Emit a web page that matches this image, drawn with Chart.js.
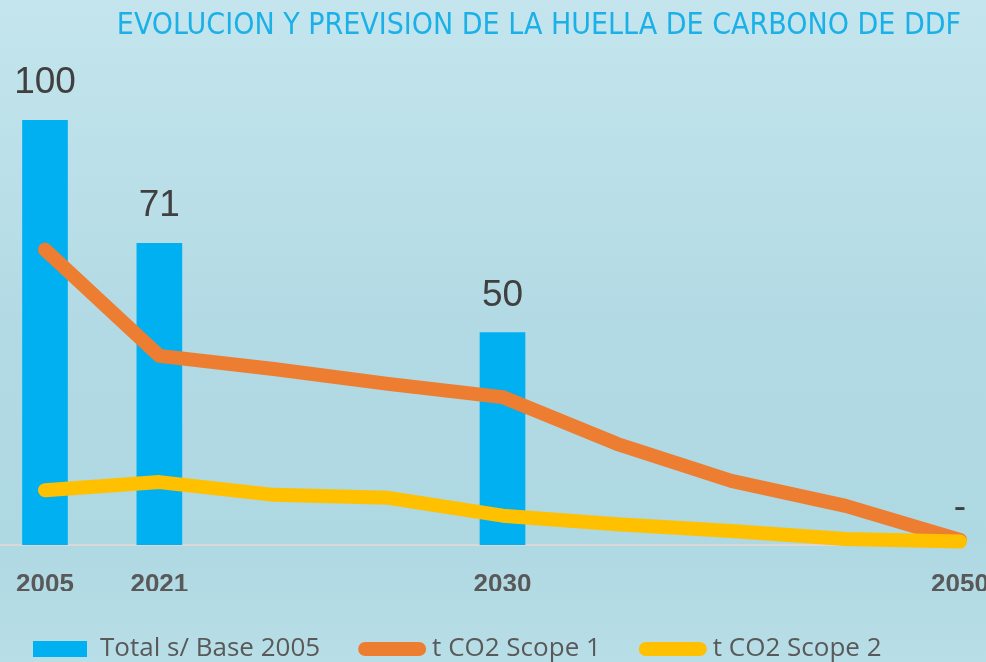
<!DOCTYPE html>
<html>
<head>
<meta charset="utf-8">
<title>Huella de carbono DDF</title>
<script src="https://cdn.jsdelivr.net/npm/chart.js@4/dist/chart.umd.min.js"></script>
<style>
  html, body { margin: 0; padding: 0; overflow: hidden; background: #b6dde6; }
  #wrap { position: relative; width: 986px; height: 672px; }
</style>
</head>
<body>
<div id="wrap"><canvas id="chart"></canvas></div>
<script>
// valores (indice 2005 = 100)
const categories = ['2005', '2021', '', '', '2030', '', '', '', '2050'];
const totalBase2005 = [100, 71, null, null, 50, null, null, null, 0];
const scope1 = [69.5, 44.5, 41.4, 37.9, 34.8, 23.8, 15.1, 9.2, 1.2];
const scope2 = [12.9, 14.8, 11.8, 11.1, 6.9, 4.9, 3.3, 1.4, 0.8];

const toPoints = (values) => values.map((v, i) => ({ x: i, y: v }));

const background = {
	id: 'background',
	beforeDraw(chart) {
		const { ctx, width, height } = chart;
		const g = ctx.createLinearGradient(0, 0, 0, height);
		g.addColorStop(0, '#c4e5ed');
		g.addColorStop(0.5, '#b2dae4');
		g.addColorStop(0.8, '#aed8e2');
		g.addColorStop(1, '#b9dfe8');
		ctx.save();
		ctx.fillStyle = g;
		ctx.fillRect(0, 0, width, height);
		ctx.restore();
	},
};

// la leyenda empieza algo mas a la izquierda que su caja
const legendShift = {
	id: 'legendShift',
	afterLayout(chart) {
		chart.legend.left -= 12;
		chart.legend.right -= 12;
	},
};

const barLabels = {
	id: 'barLabels',
	afterDatasetsDraw(chart) {
		const { ctx } = chart;
		const meta = chart.getDatasetMeta(0);
		ctx.save();
		ctx.fillStyle = '#404040';
		ctx.font = '37px "Liberation Sans", Arial, sans-serif';
		ctx.textAlign = 'center';
		ctx.textBaseline = 'middle';
		meta.data.forEach((bar, i) => {
			const v = totalBase2005[i];
			if (v === null) return;
			ctx.fillText(v === 0 ? '-' : String(v), bar.x, bar.y - 37);
		});
		ctx.restore();
	},
};

new Chart(document.getElementById('chart'), {
	type: 'bar',
	data: {
		datasets: [
			{
				type: 'bar',
				label: 'Total s/ Base 2005',
				data: toPoints(totalBase2005),
				backgroundColor: '#00b0f0',
				barThickness: 45,
				order: 2,
			},
			{
				type: 'line',
				label: 't CO2 Scope 1',
				data: toPoints(scope1),
				borderColor: '#ed7d31',
				backgroundColor: '#ed7d31',
				borderWidth: 14,
				borderCapStyle: 'round',
				borderJoinStyle: 'round',
				pointRadius: 0,
				tension: 0,
				clip: false,
				order: 1,
			},
			{
				type: 'line',
				label: 't CO2 Scope 2',
				data: toPoints(scope2),
				borderColor: '#ffc000',
				backgroundColor: '#ffc000',
				borderWidth: 14,
				borderCapStyle: 'round',
				borderJoinStyle: 'round',
				pointRadius: 0,
				tension: 0,
				clip: false,
				order: 0,
			},
		],
	},
	options: {
		responsive: true,
		maintainAspectRatio: false,
		animation: false,
		layout: { autoPadding: false, padding: { left: 0, right: 25, top: 0, bottom: 0 } },
		scales: {
			x: {
				type: 'linear',
				offset: false,
				min: -0.3934,
				max: 8.0087,
				grid: { display: false, drawTicks: false },
				border: { display: true, color: '#d9d9d9', width: 2 },
				afterBuildTicks: (axis) => {
					axis.ticks = categories.map((c, i) => ({ value: i }));
				},
				afterFit: (axis) => {
					axis.height = 46;
					axis.paddingLeft = 0;
					axis.paddingRight = 0;
				},
				ticks: {
					autoSkip: false,
					maxRotation: 0,
					padding: 24,
					color: '#595959',
					font: { family: '"Liberation Sans", Arial, sans-serif', size: 26, weight: 'bold' },
					callback: (v) => categories[v] || '',
				},
			},
			y: {
				display: false,
				min: 0,
				max: 100,
			},
		},
		plugins: {
			title: {
				display: true,
				text: 'EVOLUCION Y PREVISION DE LA HUELLA DE CARBONO DE DDF',
				align: 'end',
				color: '#1cb0e8',
				font: { family: '"DejaVu Sans Condensed", sans-serif', size: 30, weight: 'normal' },
				padding: { top: 8, bottom: 76 },
			},
			legend: {
				position: 'bottom',
				align: 'start',
				labels: {
					usePointStyle: true,
					pointStyleWidth: 54,
					boxHeight: 16,
					padding: 45,
					color: '#595959',
					font: { family: '"Open Sans", sans-serif', size: 26 },
					generateLabels: (chart) =>
						chart.data.datasets.map((ds, i) => ({
							text: ds.label,
							datasetIndex: i,
							fillStyle: ds.backgroundColor,
							strokeStyle: ds.type === 'line' ? ds.borderColor : ds.backgroundColor,
							lineWidth: ds.type === 'line' ? 14 : 0,
							lineCap: 'round',
							pointStyle: ds.type === 'line' ? 'line' : 'rect',
							fontColor: '#595959',
						})),
				},
			},
			tooltip: { enabled: false },
		},
	},
	plugins: [background, legendShift, barLabels],
});
</script>
</body>
</html>
